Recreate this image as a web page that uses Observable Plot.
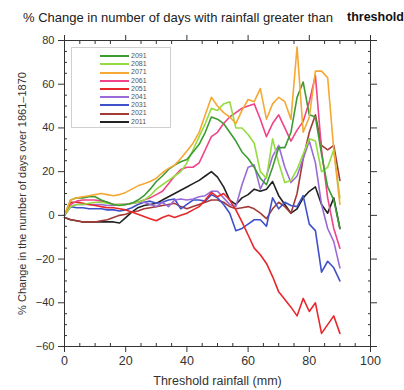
<!DOCTYPE html>
<html>
<head>
<meta charset="utf-8">
<script src="https://cdn.jsdelivr.net/npm/d3@7"></script>
<script src="https://cdn.jsdelivr.net/npm/@observablehq/plot@0.6"></script>
<style>
  html, body { margin: 0; padding: 0; background: #fff; }
  #wrap { position: relative; width: 404px; height: 390px; overflow: hidden; font-family: "Liberation Sans", Arial, sans-serif; }
  #title1 { position: absolute; left: 23px; top: 10px; font-size: 13px; color: #222; white-space: nowrap; }
  #title2 { position: absolute; left: 347px; top: 10px; font-size: 12.5px; font-weight: bold; color: #111; white-space: nowrap; }
  #legend { position: absolute; left: 71px; top: 47px; width: 100px; height: 81px; border: 1px solid #cfcfcf; background: #fff; box-sizing: border-box; }
  .lg { position: absolute; left: 28px; height: 8px; font-size: 7px; color: #555; line-height: 8px; white-space: nowrap; }
  .lg span.sw { display: inline-block; width: 29px; height: 2px; vertical-align: middle; margin-right: 2px; }
</style>
</head>
<body>
<div id="wrap">
  <div id="chart"></div>
  <div id="title1">% Change in number of days with rainfall greater than</div>
  <div id="title2">threshold</div>
  <div id="legend"></div>
</div>
<script>
const thresholds = [0,2,4,6,8,10,12,14,16,18,20,22,24,26,28,30,32,34,36,38,40,42,44,46,48,50,52,54,56,58,60,62,64,66,68,70,72,74,76,78,80,82,84,86,88,90];

const years = ["2091","2081","2071","2061","2051","2041","2031","2021","2011"];
const colors = ["#3c9c32","#94dc40","#f5a833","#f0438a","#e8272b","#9a6ad8","#4050c8","#a33a36","#222222"];

const s2091 = [0,7,8,8,8.5,8.5,7,6,5,4.5,5,5.5,7,9,12,15.5,18,21,23,24.5,25.5,29,32.5,38,45,44,42,38,34,29,26,22,17,14,22,31,31,38,54,61,46,45,28,13,7,-6];
const s2081 = [0,4,5,5,5.5,6,6,5.5,5,5,5,5.5,6,7,9,12,14,16,18,20,24,30,36,42,49,48,51,52,40,40,37,33,20,17,35,24,15,16,21,28,35,34,20,22,30,8];
const s2071 = [0,7,8,8.5,9,9.5,10,9.5,9,9.5,10.5,12,13.5,14.5,15.5,17,19.5,21.5,23,26,29.5,33,38,46,54,50,47,45,42,48,53,52,58,44,51,54,52,44,77,38,45,66,66,63,30,5];
const s2061 = [0,5,6.5,7,7,7,6.5,6,5,5,5,5.5,6,7,8,9.5,11,14.5,18,21,22,22,24,30,36,38,42,45,47,49,50,51,44,36,42,46,40,34,39,43,52,64,30,8,-6,-15];
const s2051 = [0,6,6,5.5,5,4.5,4,3.5,3.5,3,2.5,1.5,0.5,-0.5,-1.5,-2.5,-1,0,-1,0,1,2.5,4,7,10.5,8.5,10,7,2.5,-3,-9,-15,-18,-22,-28,-35,-38.5,-42,-46,-38,-44,-40,-54,-50,-46,-54];
const s2041 = [0,4,5,5,5,5,5,4.5,4.5,5,5,5.5,6,6,5,4,6,4,7,7.5,7,7.5,8.5,9,11,11,8,5,4,14,22,23,12,18,27,32,22,15,18,26,34,24,5,-6,-12,-24];
const s2031 = [0,4,3.5,3.5,3,3,3,2.5,2.5,2,2.5,3.5,5,6,6.5,5.5,6,7,7.5,3,5,7,7,6.5,9.5,8,5,1,-7,-6,-4,-2,-2,-5,8,3,6,4.5,4,9,-4,-7,-26,-21,-24,-30];
const s2021 = [-1,-2,-2.5,-3,-3,-3,-2.5,-2,-1,0,0.5,1.5,2,3,3.5,4,4.5,5,5.5,4,3,4,5,6,7,7,6,4,3,3.5,4,3,1,-1.5,3,6,4,1,10,26,38,46,32,30,32,16];
const s2011 = [-1,-2,-2.5,-3,-3,-3,-3,-3,-3,-3.5,-1,1.5,3.5,4.5,5,5.5,7,8.5,10,11.5,13,14.5,16,18,20,17.5,13,7,5,8,9.5,12,11,12,15.5,9,5,1,3,8,11,13,5,1,8,-6];

const xTicks = [0,20,40,60,80,100];
const xMinor = [5,10,15,25,30,35,45,50,55,65,70,75,85,90,95];
const yTicks = [-60,-40,-20,0,20,40,60,80];
const yMinor = [-55,-50,-45,-35,-30,-25,-15,-10,-5,5,10,15,25,30,35,45,50,55,65,70,75];

const seriesValues = {"2091": s2091, "2081": s2081, "2071": s2071, "2061": s2061, "2051": s2051, "2041": s2041, "2031": s2031, "2021": s2021, "2011": s2011};
const drawOrder = ["2011","2021","2031","2041","2051","2061","2081","2091","2071"];
const rows = [];
for (const yr of drawOrder) {
  seriesValues[yr].forEach((v, i) => rows.push({year: yr, x: thresholds[i], y: v}));
}

const axisStroke = "#333";
const chart = Plot.plot({
  width: 404,
  height: 390,
  marginLeft: 64,
  marginRight: 34,
  marginTop: 40,
  marginBottom: 44,
  style: {fontFamily: "'Liberation Sans', Arial, sans-serif", fontSize: "12px", color: "#333", background: "#fff"},
  x: {domain: [0, 100]},
  y: {domain: [-60, 80]},
  color: {domain: years, range: colors},
  marks: [
    Plot.line(rows, {x: "x", y: "y", z: "year", stroke: "year", strokeWidth: 1.6, curve: "linear"}),
    Plot.frame({stroke: axisStroke, strokeWidth: 1}),
    Plot.axisX({anchor: "bottom", ticks: xTicks, tickSize: 6, tickPadding: 4, fontSize: 12.5, label: "Threshold rainfall (mm)", labelAnchor: "center", labelOffset: 38, labelArrow: "none", stroke: axisStroke}),
    Plot.axisX({anchor: "top", ticks: xTicks, tickSize: 6, text: null, label: null, stroke: axisStroke}),
    Plot.axisX({anchor: "bottom", ticks: xMinor, tickSize: 3, dy: -3, text: null, label: null, stroke: axisStroke}),
    Plot.axisX({anchor: "top", ticks: xMinor, tickSize: 3, dy: 3, text: null, label: null, stroke: axisStroke}),
    Plot.axisY({anchor: "left", ticks: yTicks, tickSize: 6, tickPadding: 4, fontSize: 11, label: "% Change in the number of days over 1861\u20131870", labelAnchor: "center", labelOffset: 46, labelArrow: "none", stroke: axisStroke}),
    Plot.axisY({anchor: "right", ticks: yTicks, tickSize: 6, text: null, label: null, stroke: axisStroke}),
    Plot.axisY({anchor: "left", ticks: yMinor, tickSize: 3, dx: 3, text: null, label: null, stroke: axisStroke}),
    Plot.axisY({anchor: "right", ticks: yMinor, tickSize: 3, dx: -3, text: null, label: null, stroke: axisStroke})
  ]
});
document.getElementById("chart").appendChild(chart);

const legend = document.getElementById("legend");
years.forEach((yr, i) => {
  const d = document.createElement("div");
  d.className = "lg";
  d.style.top = (4 + i * 8.2) + "px";
  const sw = document.createElement("span");
  sw.className = "sw";
  sw.style.background = colors[years.indexOf(yr)];
  d.appendChild(sw);
  d.appendChild(document.createTextNode(yr));
  legend.appendChild(d);
});
</script>
</body>
</html>
